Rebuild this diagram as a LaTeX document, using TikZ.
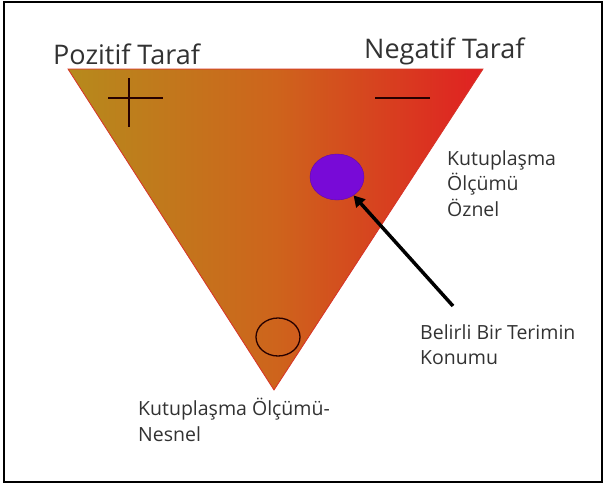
\documentclass[tikz,border=0pt]{standalone}
\usepackage{fontspec}
\setmainfont{Open Sans}
\usetikzlibrary{arrows.meta,shapes.geometric}
\definecolor{leftc}{RGB}{182,138,28}
\definecolor{midc}{RGB}{206,100,28}
\definecolor{rightc}{RGB}{224,32,34}
\definecolor{edgec}{RGB}{215,50,40}
\definecolor{txt}{RGB}{50,50,50}
\definecolor{purp}{RGB}{120,10,215}
\tikzset{
  title/.style={text=txt, font=\fontsize{27}{29}\selectfont, inner sep=0pt},
  lbl/.style={text=txt, font=\fontsize{19.5}{25.5}\selectfont, align=left, inner sep=0pt, anchor=north west},
  mark line/.style={line width=1.3pt, black!85!red},
}
\begin{document}
\begin{tikzpicture}[x=1pt,y=-1pt]
\useasboundingbox (0,0) rectangle (610,485);
\draw[line width=2.5pt] (4,2) rectangle (602,482);
% triangle
\coordinate (tl) at (68,69);
\coordinate (tr) at (483,69);
\coordinate (ap) at (274,390);
\shade[left color=leftc, right color=rightc, middle color=midc] (tl) -- (tr) -- (ap) -- cycle;
\draw[edgec, line width=0.8pt] (tl) -- (tr) -- (ap) -- cycle;
% plus and minus
\coordinate (p1) at (108,98); \coordinate (p2) at (163,98);
\coordinate (p3) at (129,78); \coordinate (p4) at (129,127);
\draw[mark line] (p1) -- (p2);
\draw[mark line] (p3) -- (p4);
\coordinate (m1) at (375,98); \coordinate (m2) at (430,98);
\draw[mark line] (m1) -- (m2);
% purple ellipse
\node[ellipse, fill=purp, draw=purp!80!black, line width=0.4pt, inner sep=0pt, minimum width=54pt, minimum height=46pt] (dot) at (337,177) {};
% black circle
\node[ellipse, draw=black!85!red, line width=1.3pt, inner sep=0pt, minimum width=44pt, minimum height=38pt] (pos) at (278,337) {};
% arrow
\coordinate (arrstart) at (453,306);
\draw[line width=3.5pt, -{Triangle[length=11pt,width=12pt]}] (arrstart) -- (dot.-48);
% titles
\node[title, anchor=west] (pt) at (53,54) {Pozitif Taraf};
\node[title, anchor=west] (nt) at (364,51) {Negatif Taraf};
% labels
\node[lbl] (oz) at (447,150) {Kutuplaşma\\Ölçümü\\Öznel};
\node[lbl] (bt) at (420,324) {Belirli Bir Terimin\\Konumu};
\node[lbl] (ns) at (138,398) {Kutuplaşma Ölçümü-\\Nesnel};
\end{tikzpicture}
\end{document}
